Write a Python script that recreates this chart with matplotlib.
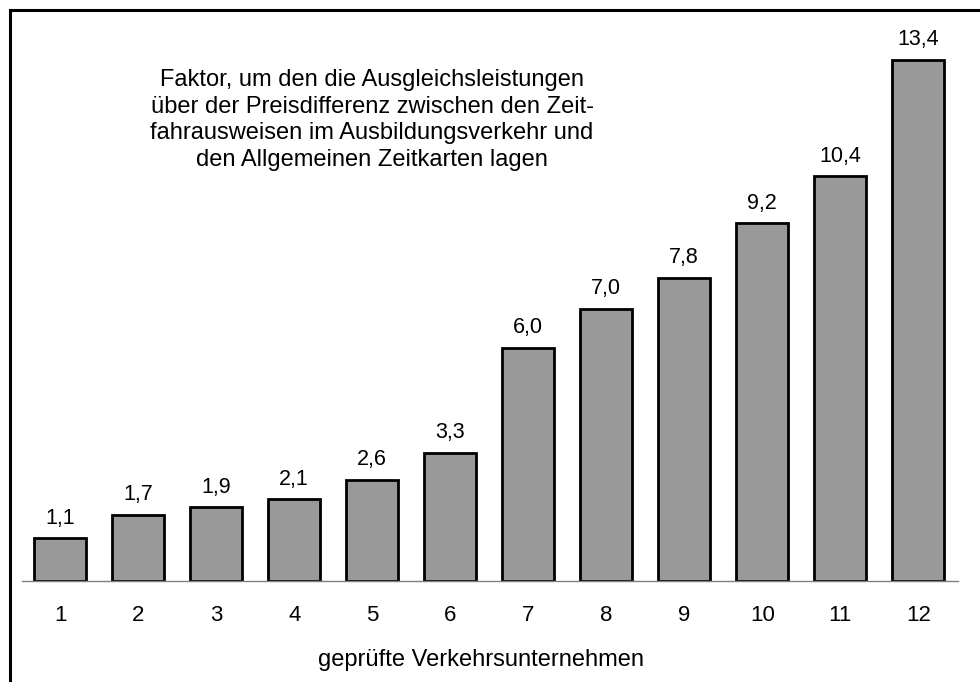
import matplotlib.pyplot as plt
from matplotlib.lines import Line2D

plt.rcParams['font.family'] = ['Liberation Sans', 'DejaVu Sans']

# Data
unternehmen = ['1', '2', '3', '4', '5', '6', '7', '8', '9', '10', '11', '12']
faktor = [1.1, 1.7, 1.9, 2.1, 2.6, 3.3, 6.0, 7.0, 7.8, 9.2, 10.4, 13.4]
labels = ['1,1', '1,7', '1,9', '2,1', '2,6', '3,3', '6,0', '7,0', '7,8', '9,2', '10,4', '13,4']

W, H = 980, 682
fig = plt.figure(figsize=(W / 100, H / 100), dpi=100)

# axes placed in pixel terms: x 22..958, y 10..581
ax = fig.add_axes([22 / W, (H - 581) / H, 936 / W, 571 / H])
x = range(len(faktor))
ax.bar(x, faktor, width=0.667, color='#999999', edgecolor='black', linewidth=2)
for xi, v, lab in zip(x, faktor, labels):
    ax.annotate(lab, (xi, v), xytext=(0, 10.5), textcoords='offset points',
                ha='center', va='baseline', fontsize=15.5)

ax.set_xlim(-0.49, 11.51)
ax.set_ylim(0, 14.68)
ax.set_xticks(list(x))
ax.set_xticklabels(unternehmen, fontsize=16)
ax.tick_params(axis='x', length=0, pad=17)
ax.set_yticks([])
for s in ['left', 'right', 'top']:
    ax.spines[s].set_visible(False)
ax.spines['bottom'].set_color('#808080')
ax.spines['bottom'].set_linewidth(1)

ax.set_xlabel('geprüfte Verkehrsunternehmen', fontsize=17)
ax.xaxis.set_label_coords((481 - 22) / 936, -(649 - 581) / 571)

ax.text((372 - 22) / 936, (581 - 69) / 571,
        'Faktor, um den die Ausgleichsleistungen\n'
        'über der Preisdifferenz zwischen den Zeit-\n'
        'fahrausweisen im Ausbildungsverkehr und\n'
        'den Allgemeinen Zeitkarten lagen',
        transform=ax.transAxes, ha='center', va='top', fontsize=17,
        linespacing=1.27)

# outer frame (top and left edges visible)
fig.add_artist(Line2D([10 / W, 10 / W], [0, (H - 10) / H], color='black', lw=2.2,
                      transform=fig.transFigure))
fig.add_artist(Line2D([10 / W, 1], [(H - 10) / H, (H - 10) / H], color='black', lw=2.2,
                      transform=fig.transFigure))

fig.savefig('out.png', dpi=100)
